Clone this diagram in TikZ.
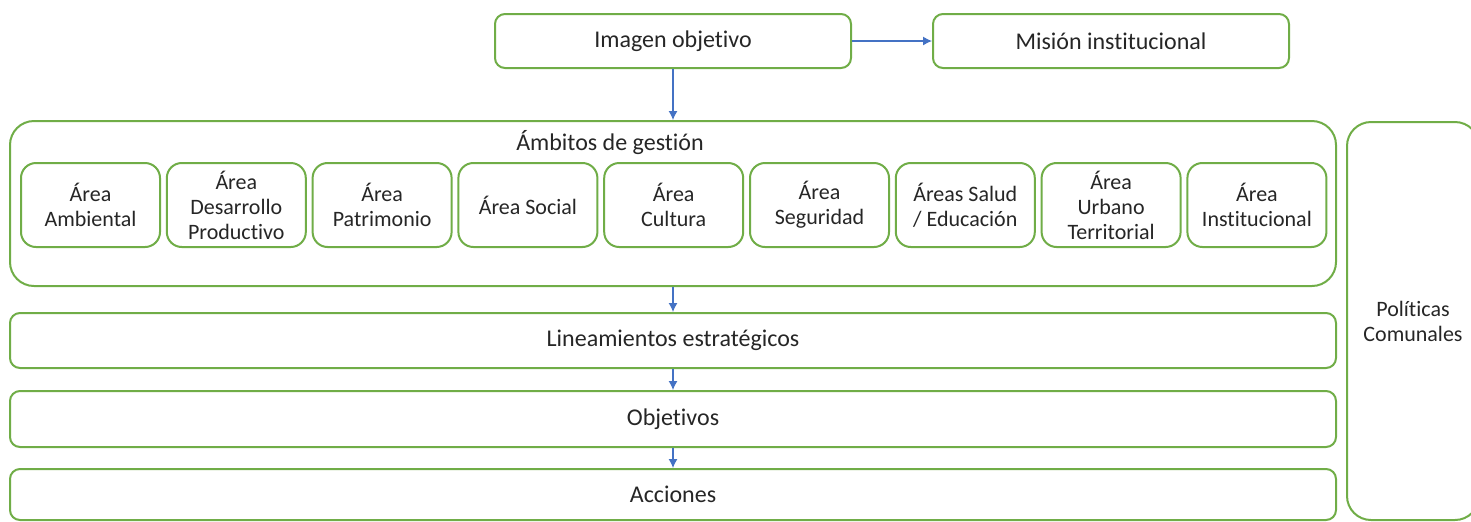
\documentclass[tikz,border=0pt]{standalone}
\usepackage{fontspec}
\setmainfont[Ligatures=NoCommon]{Carlito}
\usetikzlibrary{arrows.meta}
\definecolor{boxgreen}{HTML}{70AD47}
\definecolor{arrowblue}{HTML}{4472C4}
\definecolor{txt}{HTML}{262626}
\begin{document}
\begin{tikzpicture}[x=0.5pt,y=-0.5pt,
  gbox/.style={draw=boxgreen,line width=1pt,fill=white,inner sep=0pt,align=center,text=txt},
  topbox/.style={gbox,rounded corners=5pt,minimum width=178pt,minimum height=27pt,font=\fontsize{12}{14}\selectfont},
  widebox/.style={gbox,rounded corners=5pt,minimum width=663pt,font=\fontsize{12}{14}\selectfont},
  areabox/.style={gbox,rounded corners=7.5pt,minimum width=69.5pt,minimum height=42pt,font=\fontsize{11}{12.5}\selectfont},
  conn/.style={draw=arrowblue,line width=0.6pt,-{Latex[length=4.5pt,width=4.5pt]}}
]
\useasboundingbox (0,0) rectangle (1471,521);
\clip (0,0) rectangle (1471,521);

\node[topbox] (img) at (673,41) {Imagen objetivo};
\node[topbox] (mis) at (1111,41) {Misión institucional};

\node[gbox,rounded corners=12pt,minimum width=663pt,minimum height=82.5pt] (amb) at (673,203.5) {};
\node[inner sep=0pt,text=txt,font=\fontsize{12}{14}\selectfont] (ambt) at (610,143) {Ámbitos de gestión};

\node[areabox] (a1) at (90.5,205) {Área\\Ambiental};
\node[areabox] (a2) at (236.3,205) {Área\\Desarrollo\\Productivo};
\node[areabox] (a3) at (382.1,205) {Área\\Patrimonio};
\node[areabox] (a4) at (527.9,205) {Área Social};
\node[areabox] (a5) at (673.7,205) {Área\\Cultura};
\node[areabox] (a6) at (819.5,205) {Área\\Seguridad};
\node[areabox] (a7) at (965.3,205) {Áreas Salud\\/ Educación};
\node[areabox] (a8) at (1111.1,205) {Área\\Urbano\\Territorial};
\node[areabox] (a9) at (1256.9,205) {Área\\Institucional};

\node[widebox,minimum height=27.5pt] (lin) at (673,340.5) {Lineamientos estratégicos};
\node[widebox,minimum height=28pt] (obj) at (673,419) {Objetivos};
\node[widebox,minimum height=25.5pt] (acc) at (673,494.5) {Acciones};

\node[gbox,rounded corners=12pt,minimum width=66pt,minimum height=199pt,font=\fontsize{11}{12.5}\selectfont] (pol) at (1413,321) {Políticas\\Comunales};

\draw[conn] (img.east) -- (mis.west);
\draw[conn] (img.south) -- (amb.north);
\draw[conn] (amb.south) -- (lin.north);
\draw[conn] (lin.south) -- (obj.north);
\draw[conn] (obj.south) -- (acc.north);
\end{tikzpicture}
\end{document}
